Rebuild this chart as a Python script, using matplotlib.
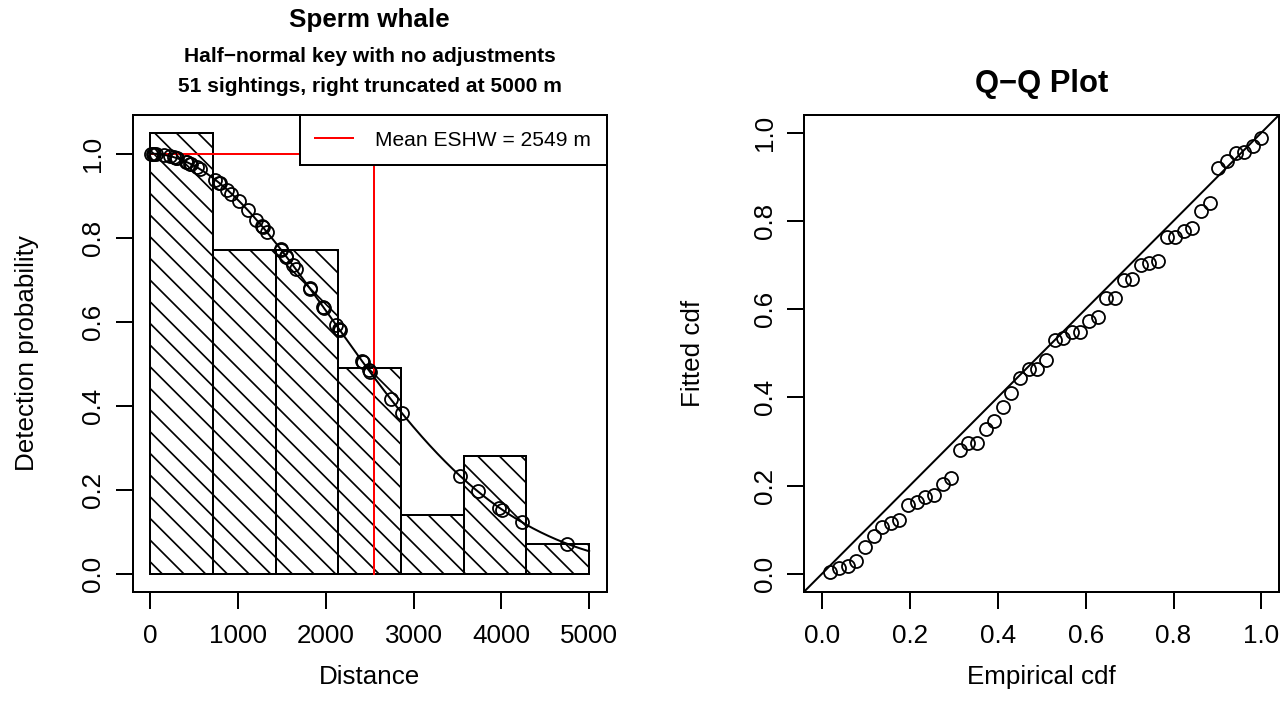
import matplotlib
matplotlib.use('Agg')
import numpy as np
import matplotlib.pyplot as plt
from matplotlib.lines import Line2D

plt.rcParams['font.family'] = ['Liberation Sans', 'DejaVu Sans']

# sighting distances (m)
distances = [10, 30, 45, 70, 155, 220, 275, 295, 310, 405,
             420, 455, 465, 530, 565, 740, 780, 790, 875, 925,
             1010, 1110, 1210, 1270, 1280, 1330, 1485, 1495, 1545, 1550,
             1625, 1660, 1815, 1825, 1970, 1980, 2115, 2150, 2160, 2410,
             2420, 2490, 2500, 2740, 2865, 3530, 3730, 3975, 4010, 4230,
             4750]
# fitted cdf values shown in the Q-Q panel (sorted)
qq_fitted = [0.005, 0.013, 0.017, 0.028, 0.060, 0.085, 0.107, 0.115, 0.121, 0.156,
             0.162, 0.175, 0.179, 0.204, 0.217, 0.281, 0.296, 0.296, 0.328, 0.347,
             0.379, 0.411, 0.445, 0.464, 0.464, 0.485, 0.530, 0.534, 0.549, 0.549,
             0.572, 0.582, 0.626, 0.626, 0.666, 0.668, 0.700, 0.704, 0.709, 0.764,
             0.764, 0.778, 0.783, 0.823, 0.841, 0.920, 0.936, 0.953, 0.957, 0.970,
             0.988]
sigma = 2068.0       # half-normal scale
trunc_w = 5000
eshw = 2549
n_bins = 7

DPI = 130
W, H = 1287, 721
P = 72.0 / DPI        # points per pixel

plt.rcParams['hatch.linewidth'] = 1.7 * P

fig = plt.figure(figsize=(W / DPI, H / DPI), dpi=DPI)


def box(x0, x1, y0, y1):
    return [x0 / W, 1 - y1 / H, (x1 - x0) / W, (y1 - y0) / H]


def style(ax):
    for s in ax.spines.values():
        s.set_linewidth(2 * P)
    ax.tick_params(direction='out', length=16.5 * P, width=2 * P, labelsize=26 * P)
    ax.tick_params(axis='x', pad=16 * P)
    ax.tick_params(axis='y', pad=11 * P)
    for lab in ax.get_yticklabels():
        lab.set_rotation(90)
        lab.set_va('center')


ax1 = fig.add_axes(box(132.7, 606.7, 115, 591.5))
ax2 = fig.add_axes(box(804.3, 1279, 115, 591.5))

# ---- detection function panel
breaks = np.linspace(0, trunc_w, n_bins + 1)
counts, _ = np.histogram(distances, bins=breaks)
heights = counts / (len(distances) * np.diff(breaks)) * eshw
ax1.bar(breaks[:-1], heights, width=np.diff(breaks), align='edge',
        facecolor='white', edgecolor='black', hatch='\\\\', linewidth=2 * P, zorder=1)

xs = np.linspace(0, trunc_w, 400)
ax1.plot(xs, np.exp(-xs ** 2 / (2 * sigma ** 2)), color='black', lw=2 * P, zorder=3)
d = np.array(distances, dtype=float)
ax1.plot(d, np.exp(-d ** 2 / (2 * sigma ** 2)), 'o', mfc='none', mec='black',
         ms=13 * P, mew=1.8 * P, zorder=4)
ax1.plot([0, eshw, eshw], [1, 1, 0], color='red', lw=2 * P, zorder=2)

leg = ax1.legend(handles=[Line2D([], [], color='red', lw=2 * P)],
                 labels=['Mean ESHW = %d m' % eshw], loc='upper right',
                 borderaxespad=0, fancybox=False, framealpha=1, edgecolor='black',
                 fontsize=21 * P, handlelength=1.81, handletextpad=1.05, borderpad=0.74)
leg.get_frame().set_linewidth(2 * P)
leg.set_zorder(10)

ax1.set_xlim(-200, 5200)
ax1.set_ylim(-0.042, 1.092)
ax1.set_xticks(range(0, 5001, 1000))
ax1.set_yticks(np.arange(0, 1.01, 0.2))
ax1.set_yticklabels(['%.1f' % v for v in np.arange(0, 1.01, 0.2)])
style(ax1)
ax1.set_xlabel('Distance', fontsize=26 * P)
ax1.set_ylabel('Detection probability', fontsize=26 * P)
ax1.xaxis.label.set_va('center')
ax1.yaxis.label.set_va('center')
ax1.xaxis.set_label_coords(0.5, (591.5 - 677) / 476.5)
ax1.yaxis.set_label_coords((27 - 132.7) / 474, 0.5)

# ---- Q-Q panel
n = len(qq_fitted)
edf = np.arange(1, n + 1) / n
ax2.axline((0, 0), slope=1, color='black', lw=2 * P)
ax2.plot(edf, qq_fitted, 'o', mfc='none', mec='black', ms=13 * P, mew=1.8 * P)
ax2.set_xlim(-0.04, 1.04)
ax2.set_ylim(-0.04, 1.04)
ticks = np.arange(0, 1.01, 0.2)
ax2.set_xticks(ticks)
ax2.set_xticklabels(['%.1f' % v for v in ticks])
ax2.set_yticks(ticks)
ax2.set_yticklabels(['%.1f' % v for v in ticks])
style(ax2)
ax2.set_xlabel('Empirical cdf', fontsize=26 * P)
ax2.set_ylabel('Fitted cdf', fontsize=26 * P)
ax2.xaxis.label.set_va('center')
ax2.yaxis.label.set_va('center')
ax2.xaxis.set_label_coords(0.5, (591.5 - 677) / 476.5)
ax2.yaxis.set_label_coords((693 - 804.3) / 474.7, 0.5)

# ---- titles
fig.text(369.7 / W, 1 - 20 / H, 'Sperm whale', ha='center', va='center',
         fontsize=26 * P, fontweight='bold')
fig.text(369.7 / W, 1 - 57 / H, 'Half\u2212normal key with no adjustments',
         ha='center', va='center', fontsize=21 * P, fontweight='bold')
fig.text(369.7 / W, 1 - 86 / H, '51 sightings, right truncated at 5000 m',
         ha='center', va='center', fontsize=21 * P, fontweight='bold')
fig.text(1041.7 / W, 1 - 84 / H, 'Q\u2212Q Plot', ha='center', va='center',
         fontsize=31 * P, fontweight='bold')

fig.savefig('out.png', dpi=DPI)
